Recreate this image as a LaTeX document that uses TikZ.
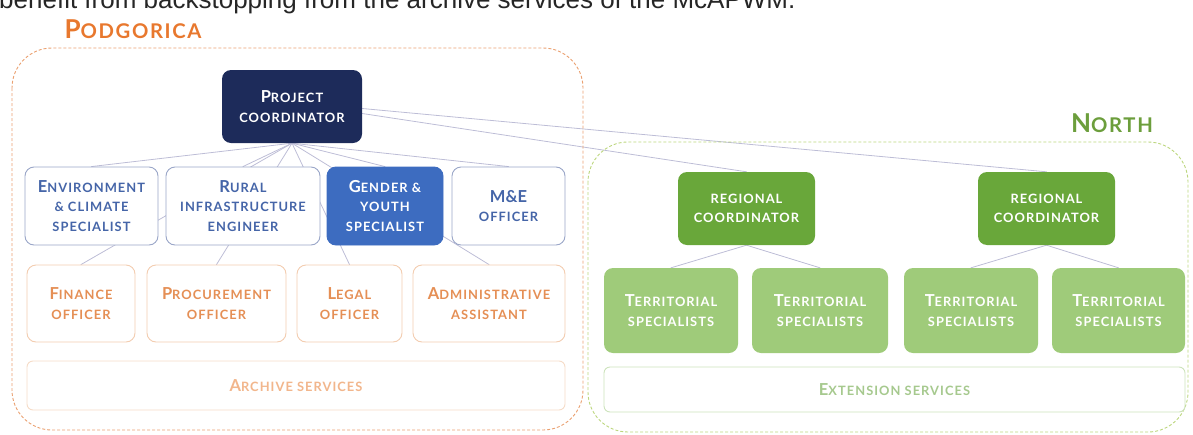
\documentclass[tikz,border=0pt]{standalone}
\usepackage{fontspec}
\setmainfont{Lato}
\newfontfamily\bodyfont{Liberation Sans}
\usetikzlibrary{positioning,backgrounds}

\makeatletter
\newcommand\smc[1]{{\fontsize{\fpeval{0.78*\f@size}}{\f@baselineskip}\selectfont
  \addfontfeature{LetterSpace=8}\MakeUppercase{#1}}}
\makeatother
\newcommand\capw[2]{#1\smc{#2}}

\definecolor{leadC}     {HTML}{1D2B5A}
\definecolor{techC}     {HTML}{4565A8}
\definecolor{techLine}  {HTML}{9AA6C8}
\definecolor{genderFill}{HTML}{3D6CC0}
\definecolor{adminC}    {HTML}{E58F55}
\definecolor{adminLine} {HTML}{F3CDB0}
\definecolor{archC}     {HTML}{F2B68C}
\definecolor{archLine}  {HTML}{F6DCC8}
\definecolor{capC}      {HTML}{E8782E}
\definecolor{capLine}   {HTML}{EAA070}
\definecolor{northC}    {HTML}{6C9E3C}
\definecolor{northLine} {HTML}{BCD67E}
\definecolor{regFill}   {HTML}{69A73A}
\definecolor{terrFill}  {HTML}{9FCB7A}
\definecolor{extC}      {HTML}{A6C98E}
\definecolor{extLine}   {HTML}{CDE3BC}
\definecolor{linkC}     {HTML}{BDBDD6}
\tikzset{
  nodeBase/.style={rounded corners=9pt,align=center,inner sep=2pt,
                   font=\fontsize{16.5}{19.5}\selectfont\bfseries},
  nodeLead/.style={nodeBase,fill=leadC,text=white},
  nodeTech/.style={nodeBase,draw=techLine,line width=0.9pt,fill=white,text=techC},
  nodeGender/.style={nodeBase,draw=genderFill,line width=0.9pt,fill=genderFill,text=white},
  nodeAdmin/.style={nodeBase,draw=adminLine,line width=0.9pt,fill=white,text=adminC},
  nodeArchive/.style={nodeBase,draw=archLine,line width=0.9pt,fill=white,text=archC,
                      rounded corners=6pt},
  nodeReg/.style={nodeBase,fill=regFill,text=white},
  nodeTerr/.style={nodeBase,fill=terrFill,text=white},
  nodeExt/.style={nodeBase,draw=extLine,line width=0.9pt,fill=white,text=extC,
                  rounded corners=6pt},
  zoneBox/.style={line width=0.9pt,dash pattern=on 3pt off 2pt,rounded corners=40pt},
  zoneLabel/.style={font=\fontsize{26}{28}\selectfont\bfseries,inner sep=0pt},
  linkLine/.style={line width=0.8pt,linkC,line cap=round},
}

\begin{document}
\begin{tikzpicture}[x=1pt,y=-1pt]
\useasboundingbox (0,0) rectangle (1193,434);

% running text of the page, cut by the top edge
\node[font=\bodyfont\fontsize{26}{30}\selectfont,anchor=base west,inner sep=0pt,
      text=black!85] (pageText) at (-1,8)
  {benefit from backstopping from the archive services of the McAPWM.};

% Podgorica office
\draw[zoneBox,capLine] (12,48) rectangle (583,430);
\node[zoneLabel,text=capC] (podgorica) at (133,29) {\capw{P}{odgorica}};

\node[nodeLead,minimum width=140pt,minimum height=73pt]
      (pc) at (292,106.5) {\capw{P}{roject}\\\smc{coordinator}};

\node[nodeTech,minimum width=133pt,minimum height=78pt]
      (env) at (91.5,206) {\capw{E}{nvironment}\\\smc{\& climate}\\\smc{specialist}};
\node[nodeTech,minimum width=154pt,minimum height=78pt]
      (rural) at (243,206) {\capw{R}{ural}\\\smc{infrastructure}\\\smc{engineer}};
\node[nodeGender,minimum width=116pt,minimum height=78pt]
      (gender) at (385,206) {\capw{G}{ender \&}\\\smc{youth}\\\smc{specialist}};
\node[nodeTech,minimum width=113pt,minimum height=78pt]
      (me) at (508.5,206) {M\&E\\\smc{officer}};

\node[nodeAdmin,minimum width=108pt,minimum height=77pt]
      (fin) at (81,303.5) {\capw{F}{inance}\\\smc{officer}};
\node[nodeAdmin,minimum width=139pt,minimum height=77pt]
      (proc) at (216.5,303.5) {\capw{P}{rocurement}\\\smc{officer}};
\node[nodeAdmin,minimum width=105pt,minimum height=77pt]
      (legal) at (349.5,303.5) {\capw{L}{egal}\\\smc{officer}};
\node[nodeAdmin,minimum width=152pt,minimum height=77pt]
      (admin) at (489,303.5) {\capw{A}{dministrative}\\\smc{assistant}};

\node[nodeArchive,minimum width=538pt,minimum height=49pt]
      (archive) at (296,385.5) {\capw{A}{rchive services}};

% North region
\draw[zoneBox,northLine] (588,142) rectangle (1188,432);
\node[zoneLabel,text=northC] (north) at (1112,123) {\capw{N}{orth}};

\node[nodeReg,minimum width=137pt,minimum height=73pt]
      (reg1) at (746.5,208.5) {\smc{regional}\\\smc{coordinator}};
\node[nodeReg,minimum width=137pt,minimum height=73pt]
      (reg2) at (1046.5,208.5) {\smc{regional}\\\smc{coordinator}};

\foreach \i/\x/\w in {1/671/134,2/820/136,3/971/134,4/1118.5/133} {
  \node[nodeTerr,minimum width=\w pt,minimum height=85pt]
        (terr\i) at (\x,310.5) {\capw{T}{erritorial}\\\smc{specialists}};
}

\node[nodeExt,minimum width=581pt,minimum height=45pt]
      (ext) at (894.5,389.5) {\capw{E}{xtension services}};

% reporting lines, kept behind the boxes
\begin{scope}[on background layer]
  \foreach \t in {env,rural,gender,me,fin,proc,legal,admin}
    \draw[linkLine] (pc.south) -- (\t.north);
  \draw[linkLine] ([yshift=-2pt]pc.east) -- (reg2.north);
  \draw[linkLine] ([yshift=-7pt]pc.east) -- (reg1.north);
  \draw[linkLine] (reg1.south) -- (terr1.north);
  \draw[linkLine] (reg1.south) -- (terr2.north);
  \draw[linkLine] (reg2.south) -- (terr3.north);
  \draw[linkLine] (reg2.south) -- (terr4.north);
\end{scope}

\end{tikzpicture}
\end{document}
